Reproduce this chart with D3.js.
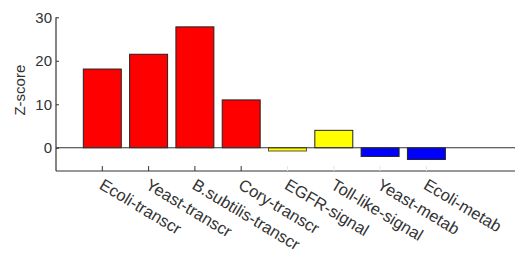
<!DOCTYPE html>
<html>
<head>
<meta charset="utf-8">
<script src="https://cdn.jsdelivr.net/npm/d3@7"></script>
<style>
  body { margin: 0; background: #fff; }
  text { font-family: "Liberation Sans", Arial, sans-serif; fill: #333; }
</style>
</head>
<body>
<svg id="mainsvg" width="515" height="255"></svg>
<script>
let svg = d3.select('#mainsvg');

// data
const networks = ['Ecoli-transcr', 'Yeast-transcr', 'B.subtilis-transcr', 'Cory-transcr',
                  'EGFR-signal', 'Toll-like-signal', 'Yeast-metab', 'Ecoli-metab'];
const zscores = [18.1, 21.5, 27.8, 11.0, -0.75, 4.0, -2.0, -2.7];
const kinds = ['transcr', 'transcr', 'transcr', 'transcr', 'signal', 'signal', 'metab', 'metab'];
const yTicks = [0, 10, 20, 30];

const fills = { transcr: '#ff0000', signal: '#ffff00', metab: '#0000ff' };

const x = d3.scaleLinear().domain([0, 10]).range([56, 519]);
const y = d3.scaleLinear().domain([-5.35, 30]).range([171, 17.3]);
const barW = 0.82;

// bars
svg.selectAll('rect.bar').data(zscores)
  .enter().append('rect')
  .attr('class', 'bar')
  .attr('x', (d, i) => x(i + 1 - barW / 2))
  .attr('width', x(barW) - x(0))
  .attr('y', d => y(Math.max(d, 0)))
  .attr('height', d => Math.abs(y(d) - y(0)))
  .attr('fill', (d, i) => fills[kinds[i]])
  .attr('stroke', (d, i) => kinds[i] === 'signal' && d < 0 ? '#5a5a2a' : '#222')
  .attr('stroke-width', 1);

// zero line
svg.append('line')
  .attr('x1', x(0)).attr('x2', 515)
  .attr('y1', y(0)).attr('y2', y(0))
  .attr('stroke', '#333').attr('stroke-width', 1.2);

// y axis
const yAxis = d3.axisRight(y).tickValues(yTicks).tickSize(3).tickFormat(d3.format('d'));
const gy = svg.append('g').attr('transform', `translate(${x(0)},0)`).call(yAxis);
gy.select('.domain').remove();
gy.selectAll('.tick line').attr('stroke', '#333');
gy.selectAll('.tick text')
  .attr('x', -4).attr('text-anchor', 'end')
  .style('font-size', '15px');
svg.append('line')
  .attr('x1', x(0)).attr('x2', x(0))
  .attr('y1', y(30)).attr('y2', y.range()[0])
  .attr('stroke', '#333').attr('stroke-width', 1.2);

// bottom axis
svg.append('line')
  .attr('x1', x(0)).attr('x2', 515)
  .attr('y1', y.range()[0]).attr('y2', y.range()[0])
  .attr('stroke', '#333').attr('stroke-width', 1.2);
svg.selectAll('line.xtick').data(networks)
  .enter().append('line')
  .attr('class', 'xtick')
  .attr('x1', (d, i) => x(i + 1)).attr('x2', (d, i) => x(i + 1))
  .attr('y1', y.range()[0]).attr('y2', y.range()[0] - 5)
  .attr('stroke', (d, i) => i < 4 ? '#333' : '#e4e4e4');

svg.selectAll('text.xlab').data(networks)
  .enter().append('text')
  .attr('class', 'xlab')
  .attr('transform', (d, i) => `translate(${x(i + 1) - 1},${y.range()[0] + 12}) rotate(31)`)
  .attr('dy', '0.35em')
  .style('font-size', '16.5px')
  .text(d => d);

// y label
svg.append('text')
  .attr('transform', `translate(25,${(y(30) + y.range()[0]) / 2 - 4}) rotate(-90)`)
  .attr('text-anchor', 'middle')
  .style('font-size', '15px')
  .text('Z-score');
</script>
</body>
</html>
